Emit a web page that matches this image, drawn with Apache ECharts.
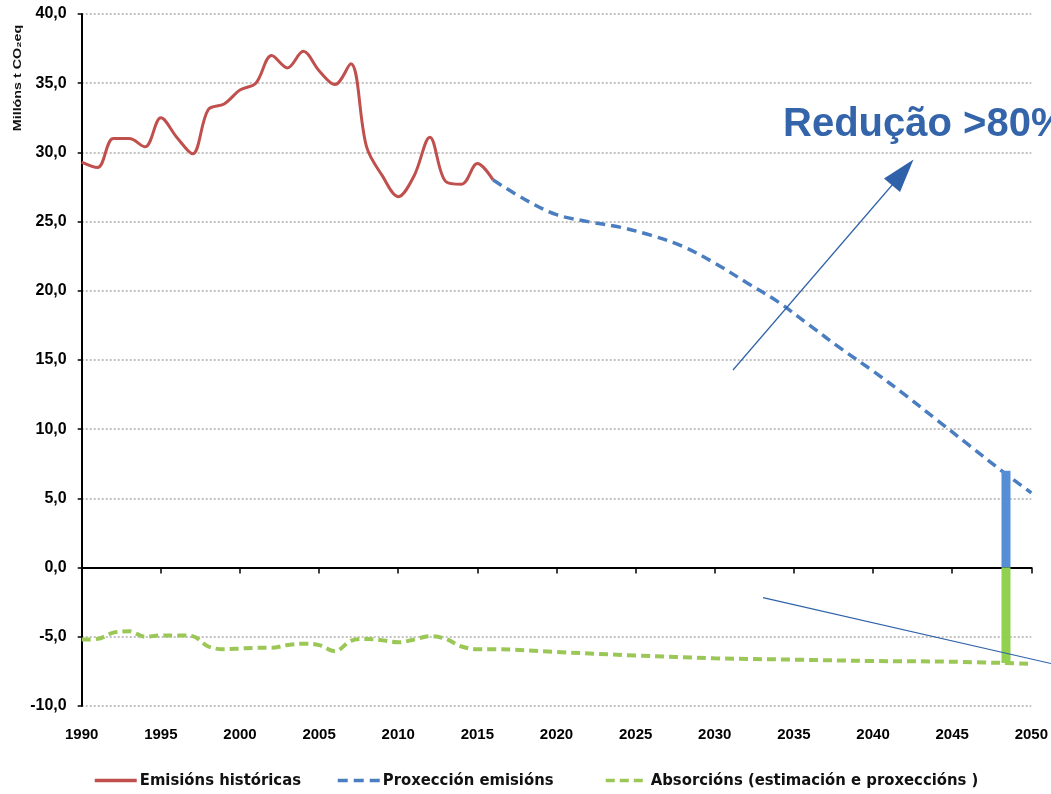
<!DOCTYPE html>
<html>
<head>
<meta charset="utf-8">
<script src="https://cdn.jsdelivr.net/npm/echarts@6.0.0/dist/echarts.min.js"></script>
<style>
  html, body { margin: 0; padding: 0; background: #fff; }
  #chart { width: 1051px; height: 794px; }
</style>
</head>
<body>
<div id="chart"></div>
<script>
// Historical emissions (Mt CO2eq)
const histYears = [1990, 1991, 1992, 1993, 1994, 1995, 1996, 1997, 1998, 1999,
                   2000, 2001, 2002, 2003, 2004, 2005, 2006, 2007, 2008, 2009,
                   2010, 2011, 2012, 2013, 2014, 2015, 2016];
const histEmissions = [29.3, 28.9, 31.0, 31.0, 30.4, 32.5, 31.1, 29.9, 33.1, 33.5,
                       34.5, 35.0, 37.0, 36.1, 37.3, 35.9, 34.9, 36.4, 30.4, 28.3,
                       26.8, 28.3, 31.1, 27.9, 27.7, 29.2, 28.0];

// Projected emissions
const projYears = [2016, 2018, 2020, 2022, 2024, 2026, 2028, 2030, 2032, 2034,
                   2036, 2038, 2040, 2042, 2044, 2046, 2048, 2050];
const projEmissions = [28.0, 26.6, 25.5, 25.0, 24.6, 24.0, 23.2, 22.0, 20.6, 19.2,
                       17.5, 15.8, 14.2, 12.5, 10.7, 8.9, 7.1, 5.4];

// Absorptions: estimate and projection
const absYears = [1990, 1991, 1992, 1993, 1994, 1995, 1996, 1997, 1998, 1999,
                  2000, 2001, 2002, 2003, 2004, 2005, 2006, 2007, 2008, 2009,
                  2010, 2011, 2012, 2013, 2014, 2015, 2016,
                  2020, 2025, 2030, 2035, 2040, 2045, 2050];
const absValues = [-5.2, -5.15, -4.7, -4.6, -5.0, -4.9, -4.9, -4.95, -5.7, -5.9,
                   -5.85, -5.8, -5.8, -5.6, -5.5, -5.6, -6.05, -5.3, -5.15, -5.25,
                   -5.4, -5.2, -4.95, -5.15, -5.7, -5.9, -5.9,
                   -6.1, -6.35, -6.55, -6.65, -6.75, -6.8, -6.95];

// Net reduction bar near 2050: remaining emissions and absorptions
const barYear = [2048.4];
const barEmissions = [7.0];
const barAbsorptions = [-6.9];

const seriesNames = ['Emisións históricas', 'Proxección emisións', 'Absorcións (estimación e proxeccións )'];
const yAxisName = 'Millóns t CO₂eq';
const noteText = 'Redução >80%';

const pairs = (xs, ys) => xs.map((x, i) => [x, ys[i]]);

const labelFont = "'Liberation Sans', Arial, sans-serif";
const legendFont = "'Liberation Sans Narrow', 'DejaVu Sans Condensed', 'Arial Narrow', 'Liberation Sans', sans-serif";

const chart = echarts.init(document.getElementById('chart'), null, { renderer: 'canvas' });

const legendBase = {
  top: 767,
  itemWidth: 42,
  itemHeight: 14,
  itemGap: 4,
  itemStyle: { opacity: 0 },
  lineStyle: { width: 3.5 },
  textStyle: { fontFamily: legendFont, fontSize: 16.5, fontWeight: 'bold', color: '#111', padding: [0, 0, 0, -2] }
};

chart.setOption({
  animation: false,
  backgroundColor: '#ffffff',
  grid: { left: 81.7, right: 17, top: 14, bottom: 88, containLabel: false },
  legend: [
    Object.assign({ left: 88, data: [seriesNames[0]] }, legendBase),
    Object.assign({ left: 331, data: [seriesNames[1]] }, legendBase),
    Object.assign({ left: 599, data: [seriesNames[2]] }, legendBase)
  ],
  xAxis: [
    {
      type: 'value', min: 1990, max: 2050, interval: 5,
      axisLine: { show: true, onZero: true, lineStyle: { color: '#000', width: 2 } },
      axisTick: { show: true, length: 6, lineStyle: { color: '#000', width: 1.5 } },
      axisLabel: { show: false },
      splitLine: { show: false }
    },
    {
      type: 'value', min: 1990, max: 2050, interval: 5, position: 'bottom',
      axisLine: { show: false, onZero: false },
      axisTick: { show: false },
      axisLabel: {
        show: true, margin: 21, color: '#000',
        fontFamily: labelFont, fontSize: 15, fontWeight: 'bold',
        formatter: v => String(v)
      },
      splitLine: { show: false }
    }
  ],
  yAxis: {
    type: 'value', min: -10, max: 40, interval: 5,
    axisLine: { show: true, lineStyle: { color: '#000', width: 2 } },
    axisTick: { show: true, length: 4, lineStyle: { color: '#000', width: 1.5 } },
    axisLabel: {
      margin: 15, color: '#000',
      fontFamily: labelFont, fontSize: 16, fontWeight: 'bold',
      formatter: v => v.toFixed(1).replace('.', ',')
    },
    splitLine: { show: true, lineStyle: { color: '#ADADAD', width: 1.5, type: [2, 2] } }
  },
  series: [
    {
      name: seriesNames[0], type: 'line', xAxisIndex: 0,
      data: pairs(histYears, histEmissions),
      smooth: 0.35, symbol: 'none',
      lineStyle: { color: '#C0504D', width: 3 },
      itemStyle: { color: '#C0504D' },
      z: 4
    },
    {
      name: seriesNames[1], type: 'line', xAxisIndex: 0,
      data: pairs(projYears, projEmissions),
      smooth: 0.35, symbol: 'none',
      lineStyle: { color: '#4A7EC1', width: 3.5, type: [10, 6] },
      itemStyle: { color: '#4A7EC1' },
      z: 4
    },
    {
      name: seriesNames[2], type: 'line', xAxisIndex: 0,
      data: pairs(absYears, absValues),
      smooth: 0.35, symbol: 'none',
      lineStyle: { color: '#9BC757', width: 4, type: [9, 5] },
      itemStyle: { color: '#9BC757' },
      z: 3
    },
    {
      name: 'bar-emissions', type: 'bar', xAxisIndex: 0, stack: 'net',
      data: pairs(barYear, barEmissions),
      barWidth: 9, itemStyle: { color: '#558ED5' }, z: 5
    },
    {
      name: 'bar-absorptions', type: 'bar', xAxisIndex: 0, stack: 'net',
      data: pairs(barYear, barAbsorptions),
      barWidth: 9, itemStyle: { color: '#92D050' }, z: 5
    }
  ],
  graphic: [
    {
      type: 'text', x: 18, y: 78, rotation: Math.PI / 2,
      scaleX: 1.3,
      style: {
        text: yAxisName, fill: '#111',
        font: "bold 11px 'Liberation Sans', Arial, sans-serif",
        align: 'center', verticalAlign: 'middle'
      }
    },
    {
      type: 'text', x: 783, y: 125,
      style: {
        text: noteText, fill: '#3465AA',
        font: "bold 40px 'Liberation Sans', Arial, sans-serif",
        align: 'left', verticalAlign: 'middle'
      },
      z: 10
    },
    {
      type: 'line',
      shape: { x1: 733, y1: 370, x2: 893, y2: 184 },
      style: { stroke: '#2F62A8', lineWidth: 1.2 },
      z: 10
    },
    {
      type: 'polygon',
      shape: { points: [[913.5, 159.5], [884, 178.5], [900, 192]] },
      style: { fill: '#2F62A8' },
      z: 10
    },
    {
      type: 'line',
      shape: { x1: 763, y1: 597.7, x2: 1051, y2: 663.5 },
      style: { stroke: '#2F62A8', lineWidth: 1.2 },
      z: 10
    }
  ]
});
</script>
</body>
</html>
